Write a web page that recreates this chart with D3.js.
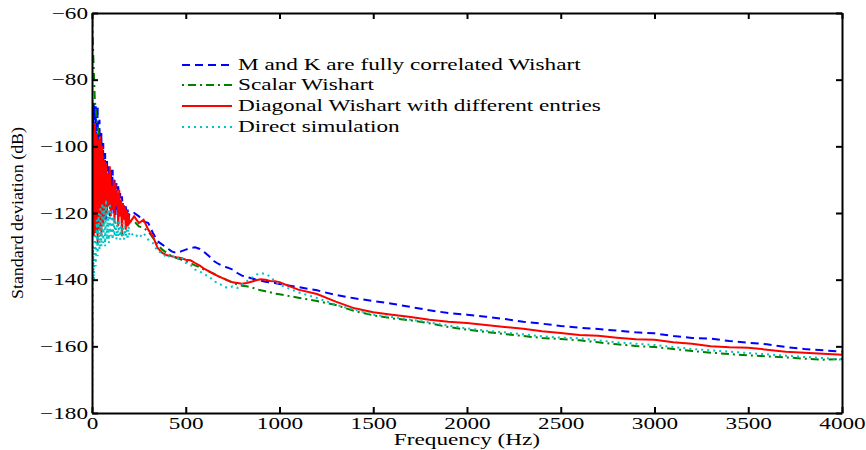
<!DOCTYPE html>
<html lang="en">
    <head>
        <meta charset="utf-8">
        <title>Standard deviation</title>
        <script src="https://d3js.org/d3.v7.min.js"></script>
        <style type="text/css">
            body { margin: 0; background: #fff; }
            svg text { font-family: "Liberation Serif", "Times New Roman", serif; fill: #000; }
            .axis path, .axis line { stroke: #000; stroke-width: 2; }
            .axis text { font-size: 16px; }
        </style>
    </head>
    <body>
        <script type="text/javascript">

            //data (Hz, dB)
            const freq = [
                0, 5, 10, 15, 20, 25, 30, 35, 40, 45, 50, 55, 60, 65, 70, 75, 80, 85, 90, 95,
                100, 105, 110, 115, 120, 125, 130, 135, 140, 145, 150, 155, 160, 165, 170, 175, 180, 185, 190, 195, 200,
                225, 250, 275, 300, 325, 350, 375, 400, 425, 450, 475, 500, 525, 550, 575, 600,
                625, 650, 675, 700, 725, 750, 775, 800, 825, 850, 875, 900, 925, 950, 975, 1000,
                1100, 1200, 1300, 1400, 1500, 1600, 1700, 1800, 1900, 2000, 2100, 2200, 2300, 2400, 2500,
                2600, 2700, 2800, 2900, 3000, 3100, 3200, 3300, 3400, 3500, 3600, 3700, 3800, 3900, 4000
            ];

            const fullyCorrelated = [
                -82, -105, -87, -110, -88, -115, -88, -118, -92, -120, -96, -122, -99, -120, -102, -122, -104, -118, -106, -121,
                -107, -119, -107, -120, -110, -121, -111, -119, -112, -121, -114, -120, -115, -121, -117, -122, -118, -121, -119, -122, -120,
                -120, -121, -122.5, -123, -126, -128.5, -129.5, -130.5, -131.5, -132, -131.5, -131, -130.5, -130.3, -130.8, -131.8,
                -133, -134.4, -135.3, -136, -136.4, -137, -138, -138.8, -139.2, -139.6, -140, -140.3, -140.6, -140.8, -141, -141.3,
                -142.2, -143.2, -144.6, -145.6, -146.4, -147.2, -148.2, -149.2, -150, -150.5, -151.1, -151.8, -152.6, -153.2, -153.9,
                -154.4, -154.8, -155.3, -155.8, -156.1, -156.9, -157.5, -157.7, -158.4, -158.9, -159.4, -160.2, -160.8, -161.2, -161.6
            ];

            const scalarWishart = [
                -60, -70, -78, -86, -89, -92, -94, -96, -98, -99.5, -101, -102, -103, -104, -105, -106.5, -108, -109, -110, -111,
                -112, -113, -114, -114.5, -115, -116, -116.5, -117, -117.5, -118, -118.5, -119, -119.5, -120, -120.5, -121, -121, -121.5, -122, -122, -122.5,
                -122.5, -124, -124.5, -125.5, -127.5, -129.5, -131, -132, -133, -133.5, -134, -134.5, -135, -135.7, -136.3, -137,
                -137.6, -138.2, -139, -139.6, -140.3, -140.9, -141.4, -141.8, -142, -142.3, -142.8, -143.2, -143.5, -143.8, -144.2, -144.4,
                -145.4, -146.4, -147.6, -149.4, -150.7, -151.6, -152.2, -153.1, -154.2, -155, -155.7, -156.3, -156.9, -157.5, -157.8,
                -158.2, -158.8, -159.4, -159.9, -160.2, -160.8, -161.4, -161.9, -162.3, -162.7, -163, -163.3, -163.7, -164, -163.8
            ];

            const diagonalWishart = [
                -128, -95, -127, -93, -126, -96, -129, -98, -125, -97, -127, -100, -124, -104, -122, -105, -120, -108, -118, -106,
                -121, -112, -119, -110, -123, -111, -118, -114, -124, -113, -121, -116, -127, -117, -122, -118, -125, -119, -124, -120, -123,
                -121, -123, -122, -125, -127, -130.5, -132, -132.7, -133, -133.3, -133.5, -134, -134.2, -135, -135.8, -136.8,
                -137.5, -138.3, -139, -139.6, -140.2, -140.8, -141, -141.2, -141, -140.6, -140.2, -139.9, -140, -140.4, -140.5, -140.8,
                -143, -144.3, -146.6, -148.6, -149.8, -150.5, -151.2, -152, -152.6, -153, -153.6, -154.2, -154.7, -155.5, -156,
                -156.6, -156.8, -157.4, -157.9, -158, -158.8, -159.2, -160, -160.3, -160.4, -161, -161.6, -161.9, -162.2, -162.5
            ];

            const directSimulation = [
                -190, -130, -140, -126, -136, -122, -133, -120, -131, -118, -130, -117, -129, -118, -130, -116, -128, -119, -129, -117,
                -127, -120, -128, -121, -127, -122, -128, -123, -127, -122, -128, -124, -127, -123, -128, -124, -127, -125, -128, -124, -127,
                -126, -127.5, -126, -128, -129, -131.5, -132, -133.5, -132.5, -134, -133, -135, -135.5, -137, -137.5, -138.5,
                -139, -140.5, -141, -142, -142.5, -142, -142.5, -141.5, -140.5, -139.5, -138.5, -138, -138.3, -139, -140.5, -141.5,
                -143.8, -145.5, -147.5, -149, -150.5, -151.2, -152, -152.8, -153.8, -154.6, -155.3, -155.8, -156.4, -157, -157.4,
                -157.6, -158.2, -158.8, -159.2, -159.6, -160.2, -160.8, -161.2, -161.6, -162, -162.4, -162.8, -163.2, -163.5, -164
            ];

            const seriesNames = [
                "M and K are fully correlated Wishart",
                "Scalar Wishart",
                "Diagonal Wishart with different entries",
                "Direct simulation"
            ];
            const seriesValues = [fullyCorrelated, scalarWishart, diagonalWishart, directSimulation];
            const seriesColors = ["#0000ff", "#008000", "#ff0000", "#00c4c4"];
            const seriesDash = ["8,5", "2,4,8,4", null, "2,4"];

            const xTicks = [0, 500, 1000, 1500, 2000, 2500, 3000, 3500, 4000];
            const yTicks = [-180, -160, -140, -120, -100, -80, -60];

            //consts
            const w = 866;
            const h = 450;
            const mLeft = 92, mRight = 842, mTop = 13, mBottom = 413;
            const stretch = 1.45; // the original figure's type is wide

            const xScale = d3.scaleLinear().domain([0, 4000]).range([mLeft, mRight]);
            const yScale = d3.scaleLinear().domain([-180, -60]).range([mBottom, mTop]);

            const svg = d3.select("body")
                          .append("svg")
                          .attr("width", w)
                          .attr("height", h);

            svg.append("defs").append("clipPath")
               .attr("id", "plotclip")
               .append("rect")
               .attr("x", mLeft)
               .attr("y", mTop)
               .attr("width", mRight - mLeft)
               .attr("height", mBottom - mTop);

            //lines
            const line = d3.line()
                           .x((d, i) => xScale(freq[i]))
                           .y(d => yScale(d));

            svg.append("g")
               .attr("clip-path", "url(#plotclip)")
               .selectAll("path")
               .data(seriesValues)
               .enter()
               .append("path")
               .attr("d", d => line(d))
               .attr("fill", "none")
               .attr("stroke", (d, i) => seriesColors[i])
               .attr("stroke-width", 2)
               .attr("stroke-dasharray", (d, i) => seriesDash[i]);

            //axes (ticks point inward)
            svg.append("g")
               .attr("class", "axis")
               .attr("transform", "translate(0," + mBottom + ")")
               .call(d3.axisBottom(xScale).tickValues(xTicks).tickFormat(d3.format("d"))
                       .tickSize(-6).tickSizeOuter(0).tickPadding(5));

            svg.append("g")
               .attr("class", "axis")
               .attr("transform", "translate(0," + mTop + ")")
               .call(d3.axisTop(xScale).tickValues(xTicks).tickSize(-6).tickSizeOuter(0).tickFormat(""));

            svg.append("g")
               .attr("class", "axis")
               .attr("transform", "translate(" + mLeft + ",0)")
               .call(d3.axisLeft(yScale).tickValues(yTicks).tickSize(-6).tickSizeOuter(0).tickPadding(4));

            svg.append("g")
               .attr("class", "axis")
               .attr("transform", "translate(" + mRight + ",0)")
               .call(d3.axisRight(yScale).tickValues(yTicks).tickSize(-6).tickSizeOuter(0).tickFormat(""));

            //axis titles
            svg.append("text")
               .attr("class", "wide")
               .attr("x", (mLeft + mRight) / 2)
               .attr("y", 445)
               .attr("text-anchor", "middle")
               .style("font-size", "16px")
               .text("Frequency (Hz)");

            svg.append("text")
               .attr("transform", "translate(23,213) rotate(-90)")
               .attr("text-anchor", "middle")
               .attr("textLength", 172)
               .attr("lengthAdjust", "spacingAndGlyphs")
               .style("font-size", "16px")
               .text("Standard deviation (dB)");

            //legend
            const legend = svg.append("g")
                              .selectAll("g")
                              .data(seriesNames)
                              .enter()
                              .append("g")
                              .attr("transform", (d, i) => "translate(182," + [65, 85, 106, 127][i] + ")");

            legend.append("line")
                  .attr("x1", 0)
                  .attr("x2", 50)
                  .attr("stroke", (d, i) => seriesColors[i])
                  .attr("stroke-width", 2)
                  .attr("stroke-dasharray", (d, i) => seriesDash[i]);

            legend.append("text")
                  .attr("class", "wide")
                  .attr("x", 56)
                  .attr("dy", "0.32em")
                  .style("font-size", "16px")
                  .text(d => d);

            //widen horizontal texts like the original
            svg.selectAll(".axis text, text.wide")
               .filter(function() { return this.textContent !== ""; })
               .each(function() {
                   const len = this.getComputedTextLength();
                   d3.select(this)
                     .attr("textLength", len * stretch)
                     .attr("lengthAdjust", "spacingAndGlyphs");
               });
        </script>
    </body>
</html>
